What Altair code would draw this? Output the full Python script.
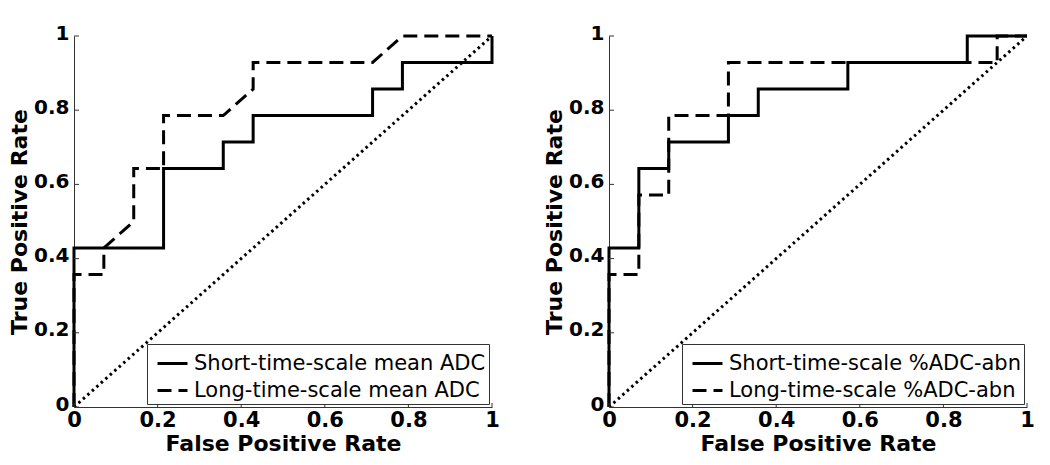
import altair as alt
import pandas as pd

# ---- data ----
L_short_fpr = [0, 0, 0.2143, 0.2143, 0.3571, 0.3571, 0.4286, 0.4286, 0.7143, 0.7143, 0.7857, 0.7857, 1, 1]
L_short_tpr = [0, 0.4286, 0.4286, 0.6429, 0.6429, 0.7143, 0.7143, 0.7857, 0.7857, 0.8571, 0.8571, 0.9286, 0.9286, 1]
L_long_fpr = [0, 0, 0.0714, 0.0714, 0.1429, 0.1429, 0.2143, 0.2143, 0.3571, 0.4286, 0.4286, 0.7143, 0.7857, 1]
L_long_tpr = [0, 0.3571, 0.3571, 0.4286, 0.5, 0.6429, 0.6429, 0.7857, 0.7857, 0.8571, 0.9286, 0.9286, 1, 1]

R_short_fpr = [0, 0, 0.0714, 0.0714, 0.1429, 0.1429, 0.2857, 0.2857, 0.3571, 0.3571, 0.5714, 0.5714, 0.8571, 0.8571, 1]
R_short_tpr = [0, 0.4286, 0.4286, 0.6429, 0.6429, 0.7143, 0.7143, 0.7857, 0.7857, 0.8571, 0.8571, 0.9286, 0.9286, 1, 1]
R_long_fpr = [0, 0, 0.0714, 0.0714, 0.1429, 0.1429, 0.2857, 0.2857, 0.9286, 0.9286, 1]
R_long_tpr = [0, 0.3571, 0.3571, 0.5714, 0.5714, 0.7857, 0.7857, 0.9286, 0.9286, 1, 1]

L_names = ["Short-time-scale mean ADC", "Long-time-scale mean ADC"]
R_names = ["Short-time-scale %ADC-abn", "Long-time-scale %ADC-abn"]

chance_x = [0, 1]
chance_y = [0, 1]
tick_vals = [0, 0.2, 0.4, 0.6, 0.8, 1]

W, H = 418, 371
FONT = "DejaVu Sans"


def curve_df(names, s_fpr, s_tpr, l_fpr, l_tpr):
    rows = []
    for i, (x, y) in enumerate(zip(s_fpr, s_tpr)):
        rows.append({"series": names[0], "fpr": x, "tpr": y, "idx": i})
    for i, (x, y) in enumerate(zip(l_fpr, l_tpr)):
        rows.append({"series": names[1], "fpr": x, "tpr": y, "idx": i})
    return pd.DataFrame(rows)


def panel(names, s_fpr, s_tpr, l_fpr, l_tpr):
    xs = alt.Scale(domain=[0, 1], nice=False, zero=False)
    ys = alt.Scale(domain=[0, 1], nice=False, zero=False)
    xax = alt.Axis(values=tick_vals, format="~g", title="False Positive Rate",
                   grid=False, ticks=False, labelPadding=2, titlePadding=3,
                   labelFlush=False, labelFontSize=21)
    yax = alt.Axis(values=tick_vals, format="~g", title="True Positive Rate",
                   grid=False, ticks=False, labelPadding=5, titlePadding=2,
                   labelFlush=False, labelFontSize=20, labelOffset=-3)

    diag = alt.Chart(pd.DataFrame({"fpr": chance_x, "tpr": chance_y})).mark_line(
        color="black", strokeWidth=3, strokeDash=[2.5, 3.5], strokeCap="butt", clip=True
    ).encode(
        x=alt.X("fpr:Q", scale=xs, axis=xax),
        y=alt.Y("tpr:Q", scale=ys, axis=yax),
    )

    curves = alt.Chart(curve_df(names, s_fpr, s_tpr, l_fpr, l_tpr)).mark_line(
        color="black", strokeWidth=3, strokeCap="butt", strokeJoin="miter"
    ).encode(
        x=alt.X("fpr:Q", scale=xs),
        y=alt.Y("tpr:Q", scale=ys),
        order=alt.Order("idx:Q"),
        strokeDash=alt.StrokeDash(
            "series:N",
            scale=alt.Scale(domain=names, range=[[1, 0], [14, 7]]),
            legend=alt.Legend(
                title=None, orient="bottom-right", offset=3,
                symbolType="stroke", symbolSize=900, symbolStrokeWidth=3,
                symbolStrokeColor="black", symbolOffset=6,
                labelFont=FONT, labelFontSize=21, labelFontWeight="normal",
                labelColor="black", labelOffset=5, labelLimit=500,
                padding=3, rowPadding=0,
                strokeColor="#333", fillColor="white",
            ),
        ),
    )

    tdf = pd.DataFrame({"v": tick_vals})
    yt = alt.Chart(tdf).mark_rule(color="#333", strokeWidth=1).encode(
        y=alt.Y("v:Q", scale=ys), x=alt.value(0), x2=alt.value(5))
    xt = alt.Chart(tdf).mark_rule(color="#333", strokeWidth=1).encode(
        x=alt.X("v:Q", scale=xs), y=alt.value(H), y2=alt.value(H - 4))

    return alt.layer(diag, curves, yt, xt).properties(width=W, height=H)


left = panel(L_names, L_short_fpr, L_short_tpr, L_long_fpr, L_long_tpr)
right = panel(R_names, R_short_fpr, R_short_tpr, R_long_fpr, R_long_tpr)

chart = alt.hconcat(left, right, spacing=43).resolve_scale(
    strokeDash="independent"
).resolve_legend(strokeDash="independent").properties(
    padding={"left": 0, "top": 15, "right": 0, "bottom": 0}
).configure_view(stroke=None).configure_axis(
    domainColor="#333", domainWidth=1,
    labelFont=FONT, labelFontWeight="bold", labelColor="black",
    titleFont=FONT, titleFontSize=22, titleFontWeight="bold", titleColor="black",
)

chart.save("out.html", embed_options={"renderer": "svg", "actions": False})
